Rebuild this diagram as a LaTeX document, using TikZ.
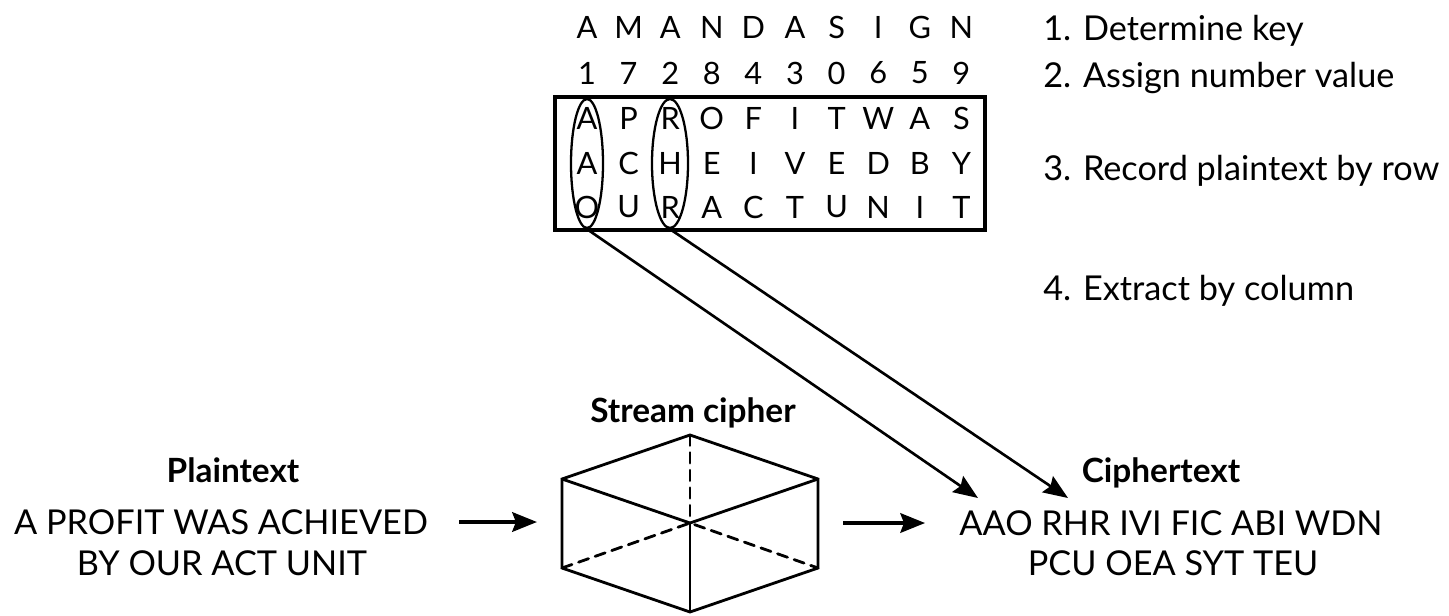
\documentclass[tikz,border=0pt]{standalone}
\usepackage{fontspec}
\setmainfont{Lato}
\usetikzlibrary{arrows.meta,shapes.geometric}

\begin{document}
\begin{tikzpicture}[x=0.2mm,y=-0.2mm,
        gridletter/.style={inner sep=0pt,font=\fontsize{17.5}{20}\selectfont},
        bodytext/.style={inner sep=0pt,font=\fontsize{19.5}{23}\selectfont},
        headtext/.style={inner sep=0pt,anchor=base,font=\fontsize{19}{22}\selectfont\bfseries},
        stepline/.style={inner sep=0pt,anchor=base west,font=\fontsize{19.5}{23}\selectfont},
        ring/.style={draw,ellipse,inner sep=0pt,line width=1.3pt,minimum width=6.4mm,minimum height=25.8mm},
        cubeedge/.style={line width=1.6pt,line cap=round},
        feed/.style={line width=2.4pt,-{Stealth[length=14pt,width=11pt,inset=2pt]}},
        pick/.style={line width=1.5pt,-{Stealth[length=14pt,width=11pt,inset=2pt]}}]
        \useasboundingbox (0,0) rectangle (1449,615);
        % key, numbers and plaintext rows
        \foreach \k/\n/\a/\b/\c [count=\i from 0] in {A/1/A/A/O,M/7/P/C/U,A/2/R/H/R,N/8/O/E/A,D/4/F/I/C,A/3/I/V/T,S/0/T/E/U,I/6/W/D/N,G/5/A/B/I,N/9/S/Y/T}{
            \node[gridletter] (K\i) at (587+41.6*\i,27) {\k};
            \node[gridletter] (N\i) at (587+41.6*\i,73) {\n};
            \node[gridletter] (Ra\i) at (587+41.6*\i,118) {\a};
            \node[gridletter] (Rb\i) at (587+41.6*\i,163) {\b};
            \node[gridletter] (Rc\i) at (587+41.6*\i,207) {\c};
        }
        \draw[line width=2.2pt] (555,97) rectangle (985,230);
        \node[ring] (RingA) at (587,163.5) {};
        \node[ring,minimum width=7.2mm] (RingR) at (670,163.5) {};
        \node[stepline] (StepA) at (1043,40) {1. Determine key};
        \node[stepline] (StepB) at (1043,87) {2. Assign number value};
        \node[stepline] (StepC) at (1043,180) {3. Record plaintext by row};
        \node[stepline] (StepD) at (1043,300) {4. Extract by column};
        % cube
        \coordinate (T) at (690,435);
        \coordinate (LT) at (562,479);
        \coordinate (RT) at (818,479);
        \coordinate (C) at (690,523);
        \coordinate (LB) at (562,568);
        \coordinate (RB) at (818,568);
        \coordinate (B) at (690,612);
        \draw[cubeedge] (LT) -- (T) -- (RT) -- (RB) -- (B) -- (LB) -- cycle;
        \draw[cubeedge] (LT) -- (C) -- (RT);
        \draw[cubeedge] (C) -- (B);
        \draw[cubeedge,dash pattern=on 6pt off 4pt] (LB) -- (C) -- (RB);
        \draw[cubeedge,dash pattern=on 6pt off 4pt] (T) -- (C);
        \node[headtext] (CubeHead) at (693,422) {Stream cipher};
        % texts
        \node[headtext] (PlainHead) at (233,482) {Plaintext};
        \node[bodytext] (PlainA) at (221,522) {A PROFIT WAS ACHIEVED};
        \node[bodytext] (PlainB) at (222,563) {BY OUR ACT UNIT};
        \node[headtext] (CipherHead) at (1161,482) {Ciphertext};
        \node[bodytext] (CipherA) at (1171,523) {AAO RHR IVI FIC ABI WDN};
        \node[bodytext] (CipherB) at (1173,563) {PCU OEA SYT TEU};
        % arrows
        \coordinate (TipA) at (978,498);
        \coordinate (TipR) at (1068,498);
        \draw[pick] (RingA.south) -- (TipA);
        \draw[pick] (RingR.south) -- (TipR);
        \draw[feed,shorten <=6.2mm,shorten >=5mm] (PlainA.east) -- (LT |- PlainA.east);
        \draw[feed,shorten <=5mm,shorten >=6.8mm] (RT |- C) -- (CipherA.west);
    \end{tikzpicture}
\end{document}
